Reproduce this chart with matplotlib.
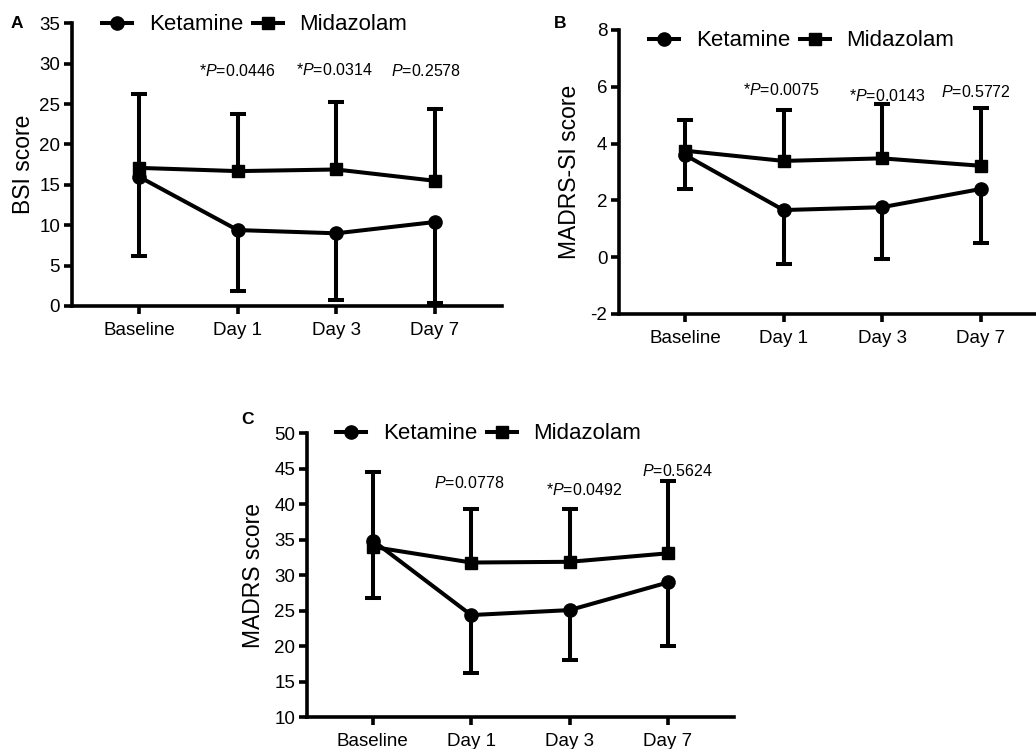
import matplotlib
matplotlib.use("Agg")
import matplotlib.pyplot as plt

plt.rcParams['font.family'] = ['Liberation Sans', 'DejaVu Sans']
plt.rcParams['mathtext.fontset'] = 'custom'
plt.rcParams['mathtext.it'] = 'Liberation Sans:italic'
plt.rcParams['mathtext.rm'] = 'Liberation Sans'

categories = ["Baseline", "Day 1", "Day 3", "Day 7"]

# Panel A: BSI
bsi_ket_mean = [16.0, 9.4, 9.0, 10.4]
bsi_ket_low = [6.2, 1.9, 0.8, 0.4]
bsi_mid_mean = [17.1, 16.7, 16.9, 15.5]
bsi_mid_high = [26.2, 23.8, 25.2, 24.4]
bsi_p_text = [r"*$\it{P}$=0.0446", r"*$\it{P}$=0.0314", r"$\it{P}$=0.2578"]
bsi_p_y = [29.1, 29.2, 29.1]

# Panel B: MADRS-SI
msi_ket_mean = [3.6, 1.66, 1.76, 2.40]
msi_ket_low = [2.39, -0.25, -0.07, 0.51]
msi_mid_mean = [3.75, 3.39, 3.48, 3.22]
msi_mid_high = [4.83, 5.18, 5.39, 5.26]
msi_p_text = [r"*$\it{P}$=0.0075", r"*$\it{P}$=0.0143", r"$\it{P}$=0.5772"]
msi_p_y = [5.9, 5.69, 5.8]

# Panel C: MADRS
mad_ket_mean = [34.9, 24.4, 25.1, 29.0]
mad_ket_low = [26.8, 16.3, 18.1, 20.0]
mad_mid_mean = [34.0, 31.8, 31.9, 33.1]
mad_mid_high = [44.6, 39.3, 39.3, 43.3]
mad_p_text = [r"$\it{P}$=0.0778", r"*$\it{P}$=0.0492", r"$\it{P}$=0.5624"]
mad_p_y = [43.0, 42.0, 44.7]

W, H = 1036, 749
fig = plt.figure(figsize=(W / 100, H / 100), dpi=100)

LW = 2.9
def panel(rect, xlim, ylim, yticks, ylabel, ket_m, ket_lo, mid_m, mid_hi,
          ptexts, pys, pxs, letter, letter_xy, leg_xy, labelpad):
    ax = fig.add_axes(rect)
    x = list(range(len(categories)))
    # error bars (one-sided)
    ax.vlines(x, ket_lo, ket_m, color='black', lw=LW, zorder=2)
    ax.plot(x, ket_lo, ls='none', marker='_', ms=11, mew=LW, color='black', zorder=2)
    ax.vlines(x, mid_m, mid_hi, color='black', lw=LW, zorder=2)
    ax.plot(x, mid_hi, ls='none', marker='_', ms=11, mew=LW, color='black', zorder=2)
    ax.plot(x, ket_m, color='black', lw=LW, marker='o', ms=9.5, label='Ketamine', zorder=3)
    ax.plot(x, mid_m, color='black', lw=LW, marker='s', ms=8.5, label='Midazolam', zorder=3)
    for t, px, py in zip(ptexts, pxs, pys):
        ax.text(px, py, t, ha='center', va='center', fontsize=11.5)
    ax.set_xlim(*xlim)
    ax.set_ylim(*ylim)
    ax.set_xticks(x)
    ax.set_xticklabels(categories, fontsize=13.5)
    ax.set_yticks(yticks)
    ax.set_yticklabels([str(v) for v in yticks], fontsize=13.5)
    ax.set_ylabel(ylabel, fontsize=16.5, labelpad=labelpad)
    for s in ['top', 'right']:
        ax.spines[s].set_visible(False)
    for s in ['left', 'bottom']:
        ax.spines[s].set_linewidth(2.6)
    ax.tick_params(direction='out', length=5.5, width=2.6, pad=3)
    ax.tick_params(axis='x', pad=6)
    fig.text(letter_xy[0] / W, 1 - letter_xy[1] / H, letter, fontsize=12.5,
             fontweight='bold', ha='center', va='center')
    ax.legend(loc='center left', bbox_to_anchor=(leg_xy[0] / W, 1 - leg_xy[1] / H),
              bbox_transform=fig.transFigure, ncol=2, frameon=False, fontsize=16,
              handlelength=1.35, handletextpad=0.75, columnspacing=0.45,
              borderpad=0, borderaxespad=0)
    return ax

panel([72 / W, 1 - 306 / H, (502 - 72) / W, (306 - 23.3) / H],
      (-0.68, 3.68), (0, 35), list(range(0, 36, 5)), "BSI score",
      bsi_ket_mean, bsi_ket_low, bsi_mid_mean, bsi_mid_high,
      bsi_p_text, bsi_p_y, [1.0, 1.98, 2.91], "A", (17, 23), (102, 25), 3)

panel([619.3 / W, 1 - 314 / H, (1036 - 619.3) / W, (314 - 30) / H],
      (-0.667, 3.563), (-2, 8), list(range(-2, 9, 2)), "MADRS-SI score",
      msi_ket_mean, msi_ket_low, msi_mid_mean, msi_mid_high,
      msi_p_text, msi_p_y, [0.98, 2.05, 2.95], "B", (560, 23), (649, 41), 7)

panel([307.3 / W, 1 - 717.3 / H, (734 - 307.3) / W, (717.3 - 433.3) / H],
      (-0.665, 3.67), (10, 50), list(range(10, 51, 5)), "MADRS score",
      mad_ket_mean, mad_ket_low, mad_mid_mean, mad_mid_high,
      mad_p_text, mad_p_y, [0.98, 2.15, 3.09], "C", (248, 420), (336, 434), 7)

fig.savefig("out.png", dpi=100)
